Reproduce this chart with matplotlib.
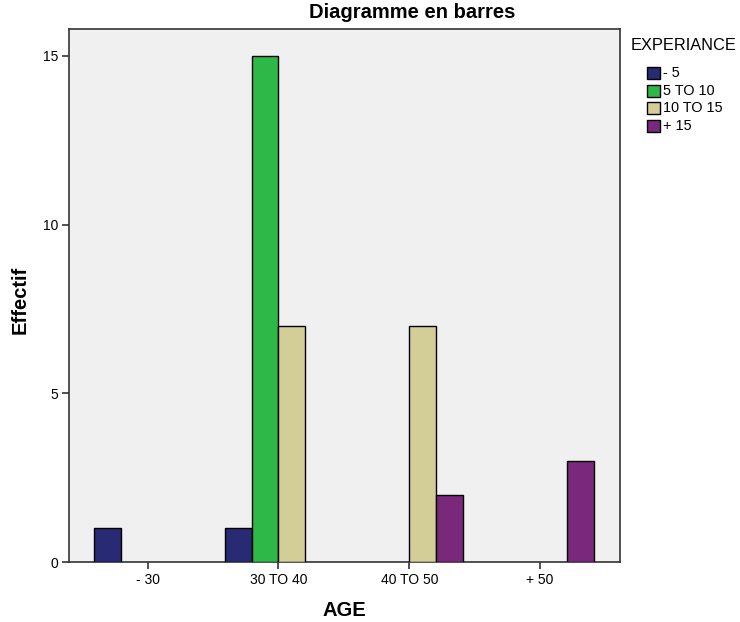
import matplotlib
matplotlib.use("Agg")
import matplotlib.pyplot as plt
from matplotlib.patches import Rectangle
import numpy as np

plt.rcParams['font.family'] = ['Liberation Sans', 'DejaVu Sans']

categories = ["- 30", "30 TO 40", "40 TO 50", "+ 50"]
series_names = ["- 5", "5 TO 10", "10 TO 15", "+ 15"]
v_m5 = [1, 1, 0, 0]
v_5_10 = [0, 15, 0, 0]
v_10_15 = [0, 7, 7, 0]
v_p15 = [0, 0, 2, 3]
colors = ["#282A73", "#2EB848", "#D3CE97", "#79287C"]

values = [v_m5, v_5_10, v_10_15, v_p15]

W, H = 740, 622
fig = plt.figure(figsize=(7.4, 6.22), dpi=100)
ax = fig.add_axes([69/W, 1-562/H, (620-69)/W, (562-29)/H])
ax.set_facecolor("#F0F0F0")

x = np.arange(len(categories))
w = 0.205
for i, (name, vals, c) in enumerate(zip(series_names, values, colors)):
    offs = (i - 1.5) * w
    for xi, v in zip(x, vals):
        if v > 0:
            ax.bar(xi + offs, v, width=w, color=c, edgecolor="black", linewidth=1.0, zorder=3)

ax.set_xlim(-0.6, 3.61)
ax.set_ylim(0, 15.8)
ax.set_xticks(x)
ax.set_xticklabels(categories, fontsize=10)
ax.set_yticks([0, 5, 10, 15])
ax.set_yticklabels(["0", "5", "10", "15"], fontsize=10)
ax.tick_params(axis='both', direction='out', length=5, width=1.2, color="#333333", pad=3)
for s in ax.spines.values():
    s.set_color("#333333")
    s.set_linewidth(1.2)

fig.text(344/W, 1-610/H, "AGE", ha='center', va='center', fontsize=14.5, fontweight='bold')
fig.text(20/W, 1-300/H, "Effectif", ha='center', va='center', rotation=90, fontsize=14.5, fontweight='bold')
fig.text(412/W, 1-12/H, "Diagramme en barres", ha='center', va='center', fontsize=14.5, fontweight='bold')

# legend
fig.text(631/W, 1-46/H, "EXPERIANCE", ha='left', va='center', fontsize=11.8)
ys = [73, 91, 108, 126]
for name, c, yy in zip(series_names, colors, ys):
    fig.patches.append(Rectangle((647/W, 1-(yy+6)/H), 13/W, 12/H, transform=fig.transFigure,
                                 facecolor=c, edgecolor="black", linewidth=1.0, figure=fig))
    fig.text(663/W, 1-yy/H, name, ha='left', va='center', fontsize=10.4)

fig.savefig("out.png", dpi=100, facecolor="white")
